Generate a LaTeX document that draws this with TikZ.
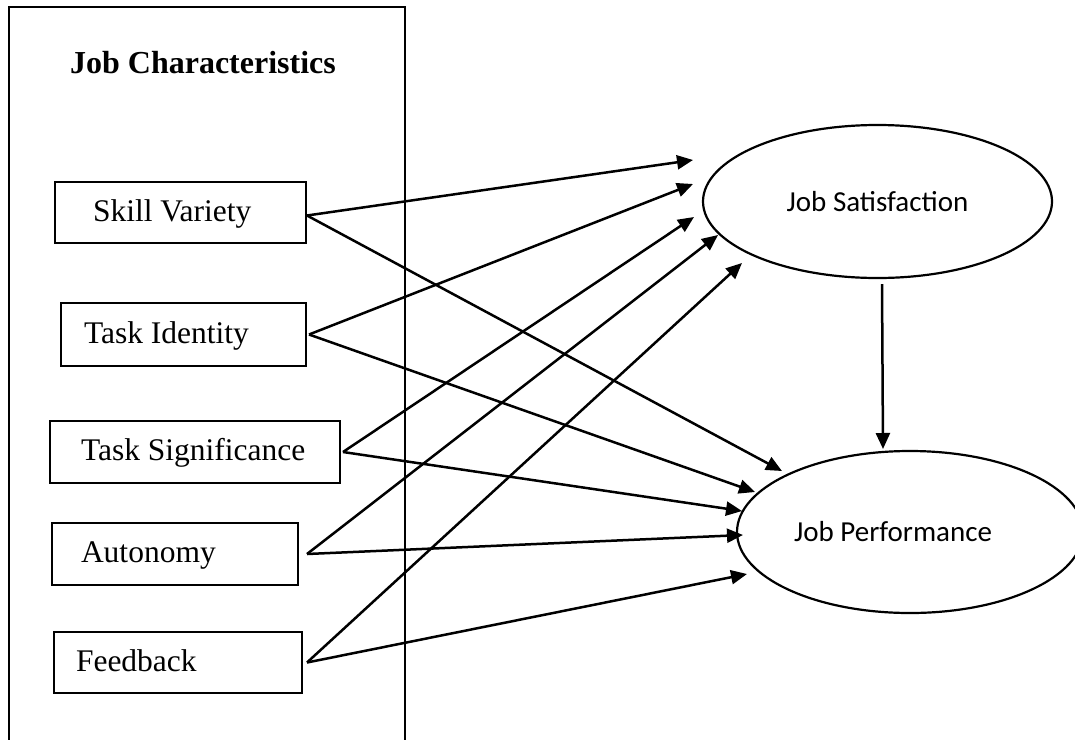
\documentclass[tikz,border=0pt]{standalone}
\usepackage{fontspec}
\setmainfont{Liberation Serif}
\newfontfamily\calibri{Carlito}
\usetikzlibrary{arrows.meta,shapes.geometric}
\newcommand\cbtext[3]{\makebox[#1pt][l]{\hspace*{#2pt}#3}}
\begin{document}
\begin{tikzpicture}[x=1pt,y=-1pt,
 frame/.style={line width=2pt},
 cbox/.style={draw,line width=2pt,rectangle,anchor=west,inner xsep=0pt,inner ysep=0pt,
   text height=24pt,text depth=6.6pt,font=\fontsize{31.5}{36}\selectfont},
 oval/.style={draw,ellipse,line width=2.2pt,inner sep=0pt,font=\calibri\fontsize{29}{34}\selectfont},
 link/.style={line width=2.5pt,-{Triangle[length=16pt,width=14pt]}}]
\useasboundingbox (0,0) rectangle (1075,739);

% outer frame of job characteristics
\draw[frame] (9,760) -- (9,7) -- (405,7) -- (405,760);
\node[font=\bfseries\fontsize{32}{38}\selectfont,anchor=base] (title) at (203,73) {Job Characteristics};

% characteristic boxes
\node[cbox,minimum height=61pt] (sv) at (54,212.5) {\cbtext{251}{38}{Skill Variety}};
\node[cbox,minimum height=63pt] (ti) at (60,334.5) {\cbtext{245}{23}{Task Identity}};
\node[cbox,minimum height=62pt] (ts) at (49,452) {\cbtext{290}{31}{Task Significance}};
\node[cbox,minimum height=62pt] (au) at (51,554) {\cbtext{246}{29}{Autonomy}};
\node[cbox,minimum height=61pt] (fb) at (53,662.5) {\cbtext{248}{22}{Feedback}};

% outcome ellipses
\node[oval,minimum width=349pt,minimum height=153pt] (js) at (877.5,201.5) {Job Satisfaction};
\node[oval,minimum width=346pt,minimum height=162pt] (jp) at (910,532) {Job Performance\hspace*{34pt}};

% arrow tip points
\coordinate (js1) at (693,160);
\coordinate (js2) at (693,184);
\coordinate (js3) at (694,217);
\coordinate (js4) at (718,235);
\coordinate (js5) at (742,263);
\coordinate (jp1) at (782,471);
\coordinate (jp2) at (755,492);
\coordinate (jp3) at (742,511);
\coordinate (jp4) at (743,535);
\coordinate (jp5) at (747,574);
\coordinate (jpt) at (883,449);

% connectors
\draw[link] ([yshift=-3pt]sv.east) -- (js1);
\draw[link] ([yshift=-3pt]sv.east) -- (jp1);
\draw[link] ([xshift=2pt]ti.east) -- (js2);
\draw[link] ([xshift=2pt]ti.east) -- (jp2);
\draw[link] ([xshift=2pt]ts.east) -- (js3);
\draw[link] ([xshift=2pt]ts.east) -- (jp3);
\draw[link] ([xshift=8pt]au.east) -- (js4);
\draw[link] ([xshift=8pt]au.east) -- (jp4);
\draw[link] ([xshift=4pt]fb.east) -- (js5);
\draw[link] ([xshift=4pt]fb.east) -- (jp5);
\draw[link] ([xshift=4.5pt,yshift=-5pt]js.south) -- (jpt);
\end{tikzpicture}
\end{document}
